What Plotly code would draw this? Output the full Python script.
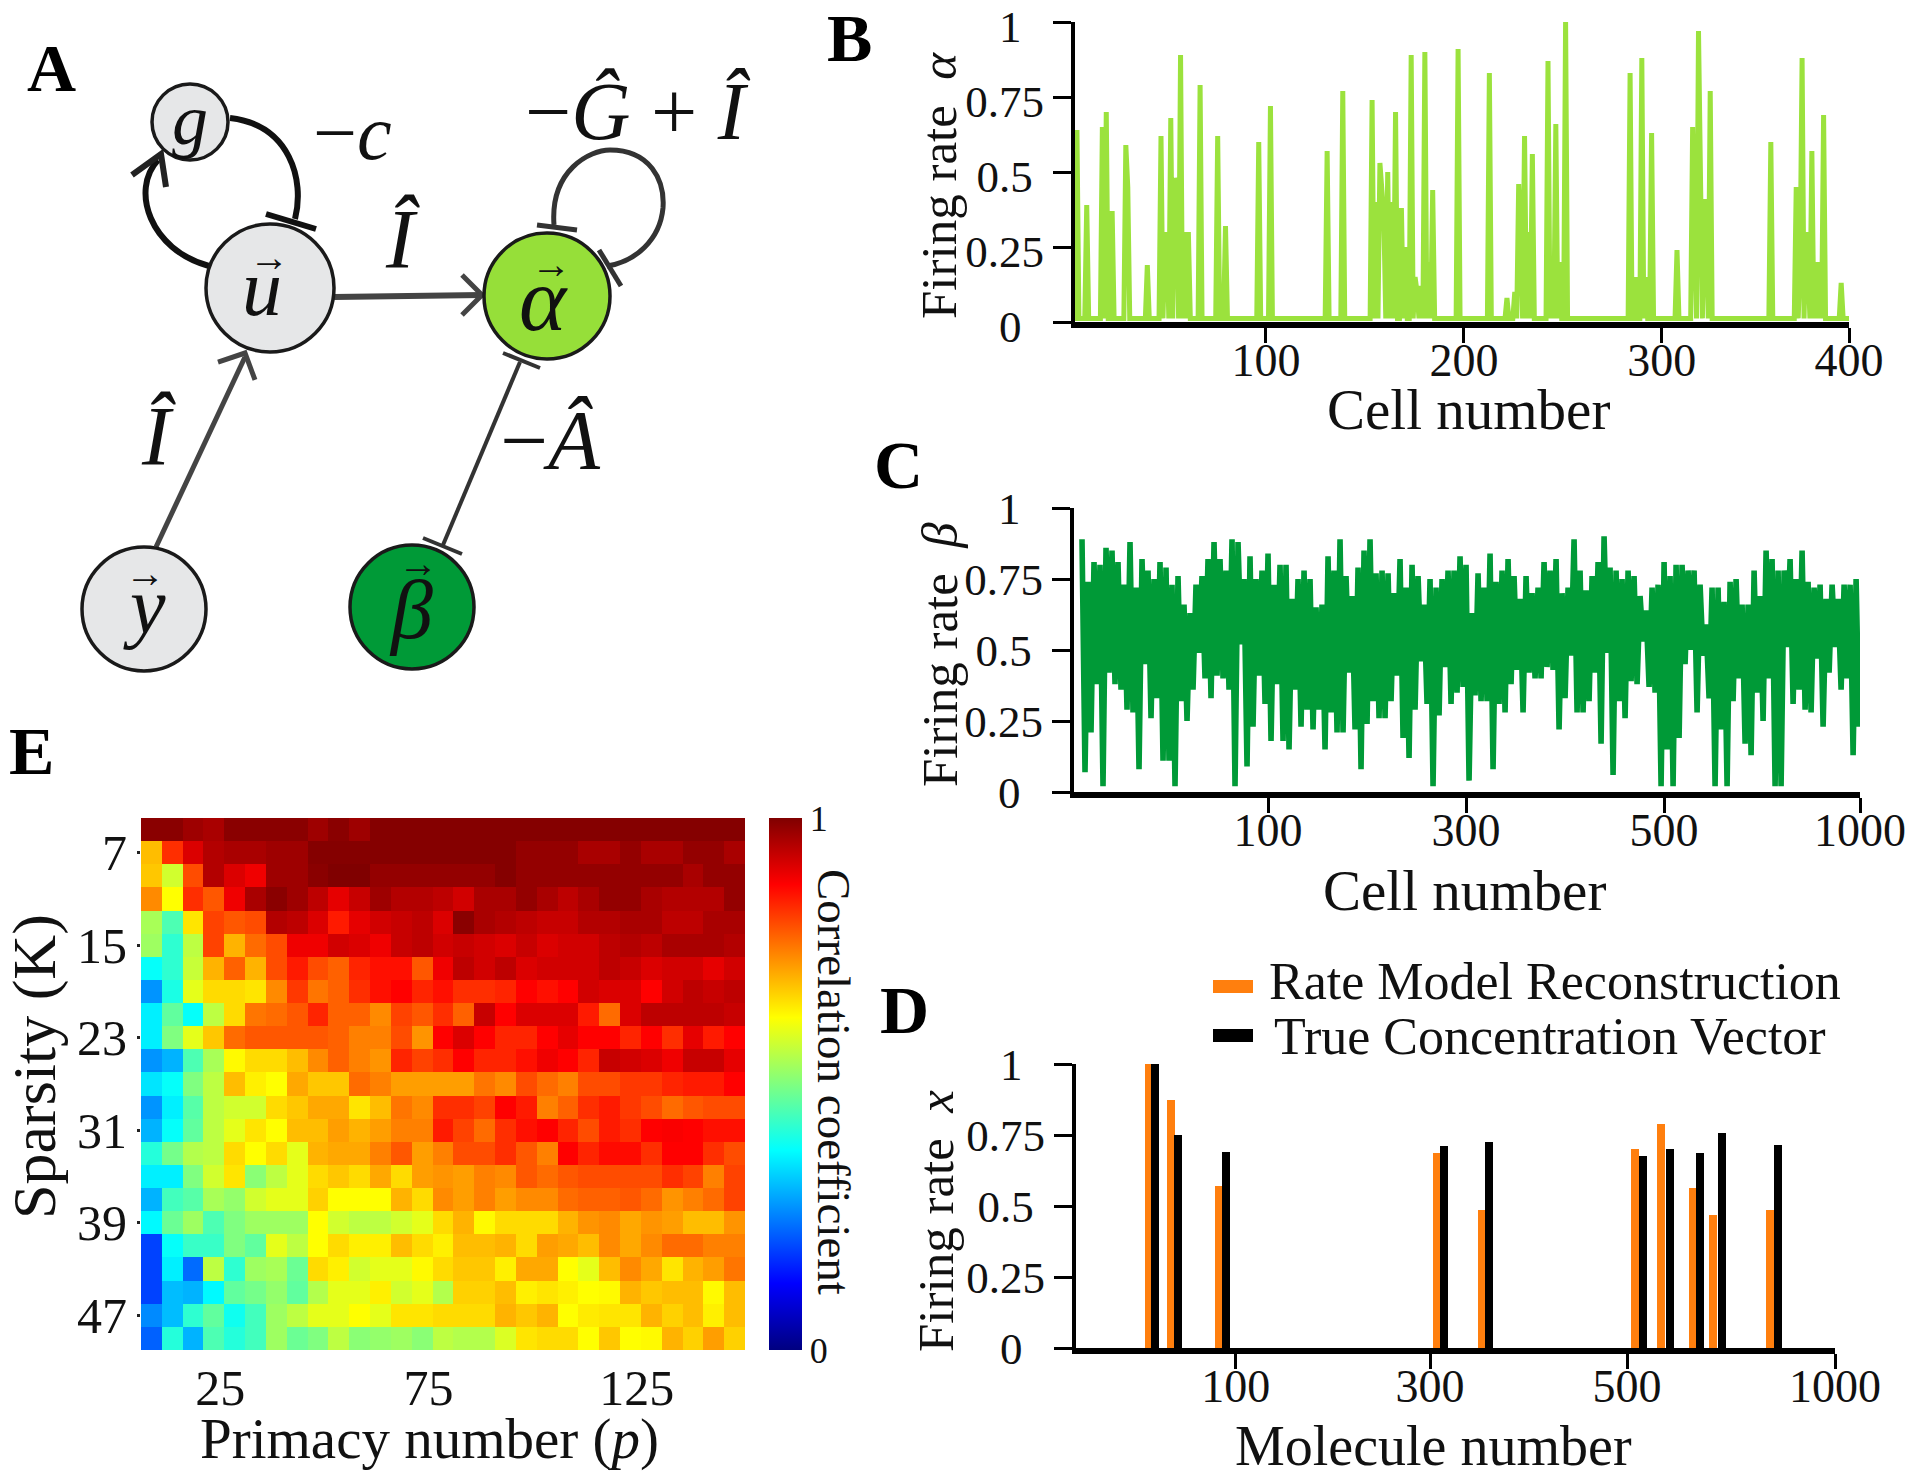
import numpy as np
import plotly.graph_objects as go

W, H = 1920, 1478
SERIF = "Liberation Serif"

# ---------- Panel B ----------
alpha_cell = [5,10,18,20,23,30,31,41,48,50,51,53,55,56,58,60,62,68,77,81,98,104,133,141,156,158,160,161,162,164,166,168,171,173,176,178,179,181,183,185,187,200,216,225,229,231,232,234,236,238,246,248,250,252,255,288,291,294,296,299,312,320,321,323,324,326,327,329,360,373,375,376,378,379,381,383,385,387,396]
alpha_rate = [.64,.39,.65,.70,.37,.59,.45,.19,.62,.25,.30,.68,.48,.45,.89,.30,.30,.79,.62,.32,.60,.72,.57,.77,.74,.40,.53,.45,.35,.50,.40,.70,.38,.25,.89,.15,.10,.12,.90,.20,.44,.91,.83,.08,.10,.46,.30,.62,.30,.56,.87,.20,.66,.20,1.0,.83,.15,.88,.15,.63,.24,.65,.40,.97,.40,.41,.30,.77,.60,.45,.20,.88,.30,.20,.57,.20,.20,.69,.13]
alpha_floor = 0.012
alpha_tick_pos = [101.7, 203, 304.2, 400]
alpha_tick_text = ["100", "200", "300", "400"]

# ---------- Panel C ----------
beta_top = [.89,.74,.81,.80,.86,.85,.81,.73,.88,.72,.82,.78,.75,.81,.79,.73,.76,.66,.63,.73,.76,.82,.88,.82,.78,.89,.88,.75,.83,.75,.78,.84,.73,.80,.80,.68,.75,.78,.75,.65,.66,.83,.78,
            .89,.76,.69,.79,.85,.89,.77,.78,.77,.70,.82,.72,.80,.76,.66,.75,.72,.75,.78,.78,.83,.80,.63,.77,.72,.84,.74,.78,.82,.76,.68,.76,.70,.72,.81,.78,.82,.70,.72,.89,.78,.71,.76,.81,.90,
            .79,.78,.75,.78,.76,.69,.64,.72,.73,.81,.76,.80,.80,.78,.78,.73,.59,.72,.72,.67,.74,.75,.66,.66,.78,.69,.85,.82,.78,.78,.82,.75,.85,.74,.72,.73,.68,.73,.68,.73,.73,.75]
beta_low = [.07,.21,.38,.02,.42,.38,.36,.29,.28,.08,.45,.26,.33,.11,.11,.02,.32,.25,.36,.49,.40,.33,.41,.40,.36,.02,.52,.09,.23,.41,.31,.18,.38,.18,.15,.36,.23,.29,.22,.29,.15,.28,.21,
            .21,.42,.22,.08,.24,.32,.26,.26,.32,.41,.19,.12,.29,.46,.31,.02,.27,.44,.31,.35,.37,.04,.34,.32,.32,.08,.31,.28,.38,.43,.28,.42,.40,.40,.44,.43,.22,.33,.48,.28,.28,.32,.42,.17,.49,
            .06,.32,.26,.39,.38,.53,.37,.35,.02,.15,.02,.19,.45,.50,.28,.48,.33,.02,.22,.02,.32,.40,.17,.13,.35,.25,.40,.02,.02,.51,.31,.36,.29,.28,.47,.23,.42,.51,.36,.40,.13,.23]
beta_tick_pos = [64, 130, 196, 261.3]
beta_tick_text = ["100", "300", "500", "1000"]

# ---------- Panel D ----------
recon_molecule = [11,34,83,305,351,507,534,566,587,645]
recon_rate = [1.0,.875,.57,.685,.485,.70,.79,.565,.47,.485]
true_molecule = [18,41,90,312,358,515,543,573,596,653]
true_rate = [1.0,.75,.69,.71,.725,.675,.70,.685,.757,.716]
molecule_tick_pos = [100, 298, 499, 711]
molecule_tick_text = ["100", "300", "500", "1000"]

# ---------- Panel E ----------
primacy = [8.5 + 5*i for i in range(29)]
sparsity = [5 + 2*i for i in range(23)]
corr = [
 [.99,.99,.97,.96,.99,.99,.99,.99,.97,.99,.97]+[.995]*18,
 [.69,.83,.91,.95,.96,.96,.97,.97]+[.995]*10+[.98,.98,.98,.96,.96,.98,.96,.96,.98,.98,.96],
 [.68,.58,.80,.95,.91,.89,.97,.97,.99,1,1]+[.98]*6+[.995]+[.98]*8+[.96,.98,.98],
 [.74,.625,.83,.79,.89,.96,.99,.97,.94,.90,.93,.97,.95,.95,.94,.92,.96,.96,.98,.96,.94,.96,.98,.98,.96,.95,.95,.95,.98],
 [.54,.45,.65,.81,.79,.80,.95,.94,.91,.85,.90,.92,.93,.94,.91,.99,.96,.95,.94,.93,.93,.95,.95,.96,.96,.94,.94,.96,.96],
 [.53,.42,.56,.81,.70,.77,.80,.89,.89,.92,.91,.89,.93,.94,.92,.93,.92,.91,.93,.91,.92,.92,.94,.95,.94,.96,.96,.96,.95],
 [.38,.42,.57,.70,.78,.70,.80,.85,.80,.78,.84,.86,.86,.79,.89,.94,.92,.94,.91,.92,.92,.92,.94,.93,.91,.92,.92,.90,.92],
 [.27,.40,.60,.66,.66,.65,.74,.82,.76,.78,.83,.86,.875,.84,.86,.83,.83,.84,.875,.86,.875,.92,.91,.91,.875,.92,.94,.93,.94],
 [.36,.47,.38,.56,.66,.76,.77,.79,.84,.78,.78,.74,.81,.79,.83,.78,.93,.875,.91,.91,.91,.85,.77,.91,.94,.94,.94,.94,.93],
 [.36,.50,.60,.68,.77,.79,.79,.79,.79,.78,.75,.75,.80,.73,.875,.91,.875,.84,.84,.875,.90,.875,.875,.84,.875,.83,.90,.85,.875],
 [.27,.30,.45,.54,.63,.66,.66,.69,.74,.78,.75,.73,.84,.81,.83,.875,.84,.84,.86,.89,.875,.84,.93,.92,.91,.89,.93,.93,.90],
 [.35,.38,.50,.56,.69,.64,.625,.71,.68,.68,.77,.75,.72,.72,.72,.72,.76,.74,.80,.77,.75,.80,.80,.82,.82,.84,.85,.85,.875],
 [.27,.36,.46,.56,.58,.58,.66,.68,.71,.71,.65,.69,.76,.74,.83,.83,.81,.875,.85,.75,.78,.83,.85,.82,.80,.77,.79,.80,.80],
 [.30,.38,.47,.56,.60,.65,.625,.69,.69,.72,.70,.72,.75,.75,.85,.81,.77,.83,.86,.875,.84,.80,.85,.83,.875,.88,.875,.86,.86],
 [.41,.49,.55,.56,.66,.625,.66,.60,.70,.71,.71,.75,.79,.72,.75,.80,.80,.83,.79,.75,.875,.84,.865,.865,.83,.875,.875,.83,.80],
 [.36,.36,.50,.58,.65,.51,.56,.60,.66,.68,.66,.71,.66,.72,.73,.72,.75,.74,.79,.77,.79,.80,.80,.80,.80,.83,.81,.75,.81],
 [.30,.44,.46,.54,.52,.58,.60,.60,.67,.625,.625,.625,.70,.66,.74,.72,.75,.72,.74,.74,.77,.78,.78,.79,.77,.73,.75,.77,.81],
 [.37,.48,.53,.45,.50,.53,.53,.53,.625,.58,.56,.56,.58,.60,.66,.70,.63,.66,.66,.66,.70,.73,.74,.71,.73,.72,.69,.69,.73],
 [.19,.38,.43,.43,.50,.47,.60,.56,.625,.66,.64,.64,.69,.66,.64,.69,.69,.70,.66,.72,.71,.69,.74,.71,.74,.77,.77,.75,.75],
 [.19,.36,.23,.56,.42,.53,.54,.48,.66,.64,.58,.60,.60,.63,.66,.68,.68,.64,.71,.71,.625,.60,.69,.74,.71,.65,.70,.72,.76],
 [.19,.31,.30,.37,.47,.49,.52,.47,.55,.60,.60,.64,.58,.60,.55,.67,.67,.69,.64,.65,.64,.625,.63,.70,.68,.69,.69,.63,.69],
 [.26,.31,.42,.47,.39,.44,.53,.56,.60,.60,.625,.60,.65,.65,.66,.66,.66,.70,.68,.70,.625,.645,.65,.65,.70,.67,.69,.64,.69],
 [.22,.41,.30,.45,.41,.44,.53,.48,.50,.56,.51,.52,.53,.51,.56,.55,.55,.59,.65,.66,.66,.625,.68,.625,.63,.70,.67,.72,.67],
]
primacy_ticks = [25, 75, 125]
sparsity_ticks = [7, 15, 23, 31, 39, 47]

rate_ticks = [0, .25, .5, .75, 1]
rate_tick_text = ["0\u00a0\u00a0", "0.25", "0.5\u00a0", "0.75", "1\u00a0\u00a0"]

jet = [[0, "rgb(0,0,128)"], [.125, "rgb(0,0,255)"], [.375, "rgb(0,255,255)"],
       [.625, "rgb(255,255,0)"], [.875, "rgb(255,0,0)"], [1, "rgb(128,0,0)"]]

LIME, GREEN, ORANGE = "#9BE23D", "#009A37", "#FF7F0E"

def fx(x): return x / W
def fy(y): return 1 - y / H

alpha_all = np.full(400, alpha_floor)
alpha_all[np.array(alpha_cell) - 1] = alpha_rate
beta_series = [v for pair in zip(beta_top, beta_low) for v in pair]
beta_cell = list(range(2, 2 + len(beta_series)))

fig = go.Figure()
fig.add_trace(go.Scatter(x=list(range(1, 401)), y=alpha_all, mode="lines", name="α",
                         line=dict(color=LIME, width=5), cliponaxis=False, xaxis="x", yaxis="y"))
fig.add_trace(go.Scatter(x=beta_cell, y=beta_series, mode="lines", name="β",
                         line=dict(color=GREEN, width=5.6), cliponaxis=False, xaxis="x2", yaxis="y2"))
fig.add_trace(go.Bar(x=recon_molecule, y=recon_rate, width=8.2, marker=dict(color=ORANGE, line_width=0),
                     name="Rate Model Reconstruction", xaxis="x3", yaxis="y3"))
fig.add_trace(go.Bar(x=true_molecule, y=true_rate, width=8.2, marker=dict(color="black", line_width=0),
                     name="True Concentration Vector", xaxis="x3", yaxis="y3"))
fig.add_trace(go.Heatmap(x=primacy, y=sparsity, z=corr, zmin=0, zmax=1, colorscale=jet, xaxis="x4", yaxis="y4",
                         colorbar=dict(x=fx(769), xanchor="left", xpad=0, ypad=0, y=fy(818), yanchor="top",
                                       lenmode="pixels", len=532, thicknessmode="pixels", thickness=33,
                                       outlinewidth=0, tickvals=[0, 1], ticktext=["0", "1"], ticks="",
                                       tickfont=dict(family=SERIF, size=36, color="#111"))))

def xax(x0, x1, rng, tv, tt):
    return dict(domain=[fx(x0), fx(x1)], range=rng, tickmode="array", tickvals=tv, ticktext=tt,
                showline=True, linecolor="black", linewidth=6, ticks="outside", ticklen=15, tickwidth=3,
                tickcolor="black", showgrid=False, zeroline=False, ticklabelstandoff=-22, ticklabeloverflow="allow",
                tickfont=dict(family=SERIF, size=46, color="#111"))

def yax(y0, y1, anchor, shift=0):
    return dict(domain=[fy(y1), fy(y0)], range=[0, 1], tickmode="array", tickvals=rate_ticks, ticktext=rate_tick_text,
                showline=True, linecolor="black", linewidth=4, ticks="outside", ticklen=18, tickwidth=3,
                tickcolor="black", showgrid=False, zeroline=False, anchor=anchor, ticklabeloverflow="allow",
                ticklabelshift=shift, tickfont=dict(family=SERIF, size=45, color="#111"))

layout = dict(width=W, height=H, margin=dict(l=0, r=0, t=0, b=0, pad=0, autoexpand=False),
              paper_bgcolor="white", plot_bgcolor="white", showlegend=False, barmode="overlay", bargap=0)
layout["xaxis"] = xax(1075, 1849, [4, 400], alpha_tick_pos, alpha_tick_text) | {"anchor": "y"}
layout["yaxis"] = yax(22, 322, "x", shift=4)
layout["xaxis2"] = xax(1074, 1860, [-0.67, 261.3], beta_tick_pos, beta_tick_text) | {"anchor": "y2"}
layout["yaxis2"] = yax(508, 792, "x2")
layout["xaxis3"] = xax(1076, 1835, [-63, 711], molecule_tick_pos, molecule_tick_text) | {"anchor": "y3"}
layout["yaxis3"] = yax(1064, 1348, "x3")
layout["xaxis4"] = dict(domain=[fx(141), fx(745)], range=[6, 151], anchor="y4", tickmode="array",
                        tickvals=primacy_ticks, ticks="", ticklabelstandoff=4, showgrid=False, zeroline=False,
                        ticklabeloverflow="allow", tickfont=dict(family=SERIF, size=50, color="#111"))
layout["yaxis4"] = dict(domain=[fy(1350), fy(818)], range=[50, 4], anchor="x4", tickmode="array",
                        tickvals=sparsity_ticks, ticks="outside", ticklen=3, tickwidth=3, tickcolor="#222",
                        ticklabelstandoff=0, showgrid=False, zeroline=False, ticklabeloverflow="allow",
                        tickfont=dict(family=SERIF, size=50, color="#111"))

ann, shapes = [], []

def text(x, y, s, size, angle=0, color="#111", family=SERIF):
    ann.append(dict(x=fx(x), y=fy(y), xref="paper", yref="paper", text=s, showarrow=False, xanchor="center",
                    yanchor="middle", textangle=angle, font=dict(family=family, size=size, color=color)))

def seg(pts, color="#444", width=4):
    d = "M" + " L".join(f"{fx(a):.5f},{fy(b):.5f}" for a, b in pts)
    shapes.append(dict(type="path", path=d, xref="paper", yref="paper", line=dict(color=color, width=width), fillcolor="rgba(0,0,0,0)"))

def curve(cmds, color="#222", width=5):
    d = ""
    for c, pts in cmds:
        d += c + " ".join(f"{fx(a):.5f},{fy(b):.5f}" for a, b in pts) + " "
    shapes.append(dict(type="path", path=d.strip(), xref="paper", yref="paper", line=dict(color=color, width=width), fillcolor="rgba(0,0,0,0)"))

def node(cx, cy, r, fill):
    shapes.append(dict(type="circle", xref="paper", yref="paper", x0=fx(cx - r), x1=fx(cx + r), y0=fy(cy + r), y1=fy(cy - r),
                       fillcolor=fill, line=dict(color="#1a1a1a", width=3.5), layer="above"))

# panel A edges
seg([(334, 297), (482, 295)], "#444", 6)
seg([(462, 275), (482, 295), (462, 315)], "#444", 5)
seg([(156, 547), (245, 357)], "#444", 5)
seg([(218, 362), (245, 353), (255, 380)], "#444", 5)
seg([(443, 545), (520, 362)], "#333", 4)
seg([(503, 353), (540, 368)], "#333", 4)
seg([(423, 538), (462, 554)], "#333", 4)
curve([("M", [(230, 118)]), ("C", [(290, 125), (305, 180), (295, 219)])], "#111", 6)
seg([(266, 214), (316, 229)], "#111", 6)
curve([("M", [(209, 266)]), ("C", [(150, 250), (130, 190), (158, 160)])], "#111", 6)
seg([(132, 175), (161, 154), (166, 187)], "#222", 6)
curve([("M", [(554, 225)]), ("C", [(550, 170), (590, 150), (610, 150)]), ("C", [(650, 150), (665, 180), (663, 208)]),
       ("C", [(660, 240), (635, 262), (607, 266)])], "#333", 5)
seg([(537, 225), (577, 230)], "#333", 5)
seg([(599, 250), (621, 286)], "#333", 5)
node(190, 122, 38, "#E6E7E8")
node(270, 288, 64, "#E6E7E8")
node(547, 296, 63, "#96DF39")
node(144, 609, 62, "#E6E7E8")
node(412, 607, 62, GREEN)
text(190, 120, "<i>g</i>", 72)
text(262, 288, "<i>u</i>", 80)
text(269, 258, "→", 40)
text(543, 299, "<i>α</i>", 90)
text(551, 264, "→", 40)
text(144, 606, "<i>y</i>", 80)
text(145, 573, "→", 40)
text(411, 610, "<i>β</i>", 84)
text(418, 563, "→", 40)
text(352, 132, "−<i>c</i>", 78)
text(638, 112, "−<i>Ĝ</i> + <i>Î</i>", 82)
text(402, 239, "<i>Î</i>", 85)
text(158, 436, "<i>Î</i>", 85)
text(550, 440, "−<i>Â</i>", 85)

# panel letters
for lx, ly, s in [(51, 68, "A"), (849, 38, "B"), (898, 465, "C"), (904, 1010, "D"), (31, 751, "E")]:
    text(lx, ly, f"<b>{s}</b>", 68, color="black")

# axis titles
text(1468, 410, "Cell number", 57)
text(1464, 890, "Cell number", 57)
text(1433, 1446, "Molecule number", 56)
text(429, 1439, "Primacy number (<i>p</i>)", 57)
text(939, 186, "Firing rate  <i>α</i>", 51, angle=-90)
text(940, 655, "Firing rate  <i>β</i>", 51, angle=-90)
text(936, 1221, "Firing rate  <i>x</i>", 51, angle=-90)
text(34, 1067, "Sparsity (K)", 62, angle=-90)
text(834, 1082, "Correlation coefficient", 47, angle=90)

# legend of panel D
shapes.append(dict(type="rect", xref="paper", yref="paper", x0=fx(1213), x1=fx(1253), y0=fy(993), y1=fy(980), fillcolor=ORANGE, line_width=0))
shapes.append(dict(type="rect", xref="paper", yref="paper", x0=fx(1213), x1=fx(1253), y0=fy(1042), y1=fy(1029), fillcolor="black", line_width=0))
text(1555, 981, "Rate Model Reconstruction", 52)
text(1550, 1036, "True Concentration Vector", 52)

layout["annotations"] = ann
layout["shapes"] = shapes
fig.update_layout(**layout)
fig.write_html("out.html", config={"displayModeBar": False}, post_script="document.body.style.margin='0';")
